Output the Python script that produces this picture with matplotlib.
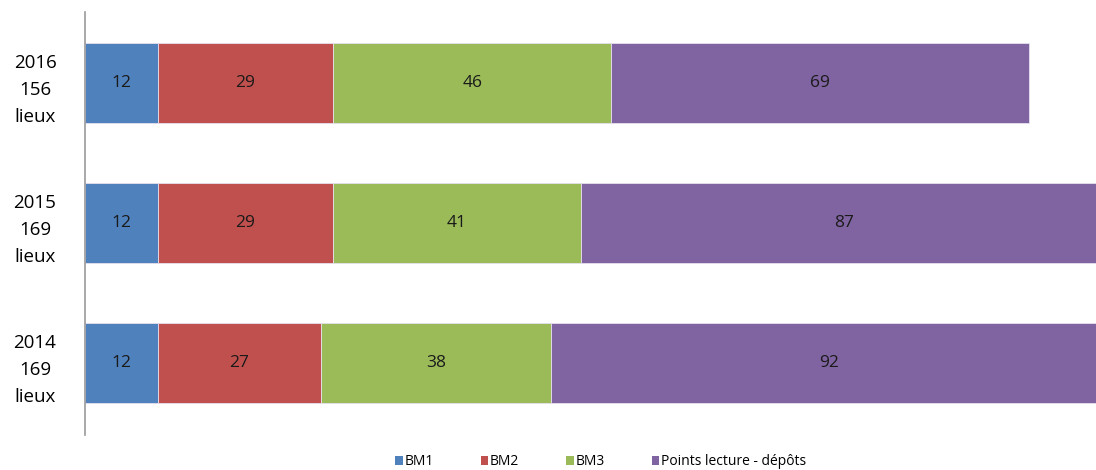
import matplotlib.pyplot as plt
import numpy as np

# Data (bottom to top)
years = ['2014\n169\nlieux', '2015\n169\nlieux', '2016\n156\nlieux']
bm1 = [12, 12, 12]
bm2 = [27, 29, 29]
bm3 = [38, 41, 46]
points = [92, 87, 69]

series = [('BM1', bm1, '#4F81BD'),
          ('BM2', bm2, '#C0504D'),
          ('BM3', bm3, '#9BBB59'),
          ('Points lecture - dépôts', points, '#8064A2')]

plt.rcParams['font.family'] = ['Open Sans', 'DejaVu Sans']

fig = plt.figure(figsize=(10.96, 4.70), dpi=100)
ax = fig.add_axes([0.0776, 0.0745, 0.9224, 0.8995])

y = np.arange(len(years))
left = np.zeros(len(years))
for name, vals, color in series:
    ax.barh(y, vals, left=left, height=0.57, color=color,
            edgecolor='#E6E0EE', linewidth=0.6, label=name)
    for yi, l, v in zip(y, left, vals):
        ax.text(l + v / 2, yi, str(v), ha='center', va='center',
                fontsize=12.5, color='#1a1a1a', clip_on=True)
    left += np.array(vals)

ax.set_xlim(0, 167.1)
ax.set_ylim(-0.514, 2.507)
ax.set_yticks(y)
ax.set_yticklabels(years, fontsize=13.5, linespacing=1.65, ha='center')
ax.tick_params(axis='y', length=0, pad=36)
ax.set_xticks([])
for s in ['top', 'right', 'bottom']:
    ax.spines[s].set_visible(False)
ax.spines['left'].set_color('#9a9a9a')
ax.spines['left'].set_linewidth(1.2)

leg = fig.legend(loc='lower center', bbox_to_anchor=(0.548, -0.025), ncol=4,
                 frameon=False, fontsize=10, handlelength=0.55,
                 handleheight=0.55, handletextpad=0.1, columnspacing=3.4)
for h in leg.legend_handles:
    h.set_edgecolor('none')

fig.savefig('out.png', dpi=100)
